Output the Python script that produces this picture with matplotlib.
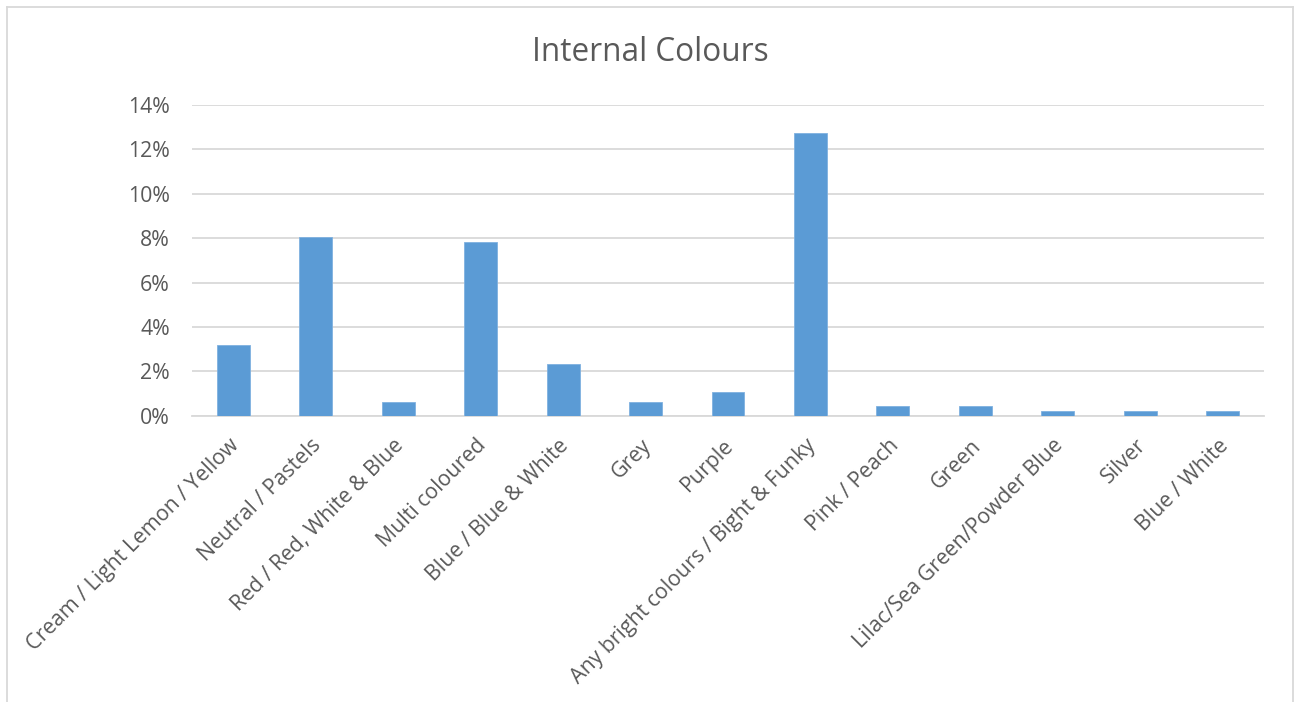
import matplotlib
matplotlib.use("Agg")
import matplotlib.pyplot as plt
import matplotlib.transforms as mtransforms
from matplotlib.lines import Line2D
from matplotlib.ticker import FuncFormatter, MultipleLocator

categories = [
    "Cream / Light Lemon / Yellow",
    "Neutral / Pastels",
    "Red / Red, White & Blue",
    "Multi coloured",
    "Blue / Blue & White",
    "Grey",
    "Purple",
    "Any bright colours / Bight & Funky",
    "Pink / Peach",
    "Green",
    "Lilac/Sea Green/Powder Blue",
    "Silver",
    "Blue / White",
]
values = [3.17, 8.05, 0.62, 7.84, 2.31, 0.62, 1.05, 12.74, 0.44, 0.44, 0.21, 0.21, 0.21]
title = "Internal Colours"

TEXT = "#595959"
GRID = "#D9D9D9"
BAR = "#5B9BD5"

plt.rcParams['font.family'] = ['Open Sans', 'DejaVu Sans']

W, H = 1301, 702
fig = plt.figure(figsize=(W / 100, H / 100), dpi=100)
ax = fig.add_axes([192 / W, 1 - 415.7 / H, (1264 - 192) / W, (415.7 - 105) / H])

x = list(range(len(categories)))
ax.bar(x, values, width=0.4, color=BAR, edgecolor="#7fb1e0", linewidth=0.6, zorder=3)

ax.set_xlim(-0.5, len(categories) - 0.5)
ax.set_ylim(0, 14)
ax.yaxis.set_major_locator(MultipleLocator(2))
ax.yaxis.set_major_formatter(FuncFormatter(lambda v, p: f"{int(round(v))}%"))
ax.grid(axis="y", color=GRID, linewidth=1.3, zorder=0)
for s in ["top", "right", "left"]:
    ax.spines[s].set_visible(False)
ax.spines["bottom"].set_color(GRID)
ax.spines["bottom"].set_linewidth(1.3)
ax.tick_params(axis="both", length=0, colors=TEXT, labelsize=15.3)
ax.tick_params(axis="y", pad=16)
ax.tick_params(axis="x", pad=14)

ax.set_xticks(x)
ax.set_xticklabels(categories, rotation=45, ha="right", va="top", rotation_mode="anchor")
offset = mtransforms.ScaledTranslation(-5 / 100, 0, fig.dpi_scale_trans)
for lbl in ax.get_xticklabels():
    lbl.set_transform(lbl.get_transform() + offset)

fig.text(650 / W, 1 - 52.5 / H, title, ha="center", va="center", fontsize=22.7, color=TEXT)

# chart border
bx0, bx1, by0 = 7 / W, 1293 / W, 1 - 6.5 / H
fig.add_artist(Line2D([bx0, bx0], [-0.05, by0], transform=fig.transFigure, color=GRID, lw=1.3))
fig.add_artist(Line2D([bx0, bx1], [by0, by0], transform=fig.transFigure, color=GRID, lw=1.3))
fig.add_artist(Line2D([bx1, bx1], [by0, -0.05], transform=fig.transFigure, color=GRID, lw=1.3))

fig.savefig("out.png", dpi=100, facecolor="white")
